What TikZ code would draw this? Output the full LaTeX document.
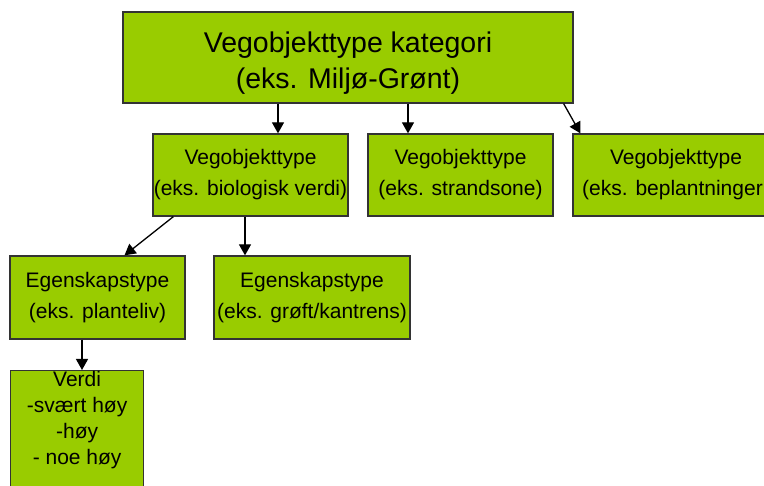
\documentclass[tikz,border=0pt]{standalone}
\usepackage{fontspec}
\setmainfont{Liberation Sans}
\usetikzlibrary{arrows.meta}
\definecolor{vegGreen}{HTML}{99CC00}

\begin{document}
\begin{tikzpicture}[x=1pt, y=-1pt,
    box/.style={draw=black!80, line width=1.3pt, fill=vegGreen, inner sep=0pt, align=center},
    small/.style={font=\fontsize{21}{31}\selectfont},
    txt/.style={align=center, inner sep=0pt},
    arr/.style={-{Triangle[width=12pt,length=11pt]}, line width=1.3pt}]

% frame
\useasboundingbox (0,0) rectangle (764,486);
\clip (0,0) rectangle (764,486);


% boxes
\node[box, minimum width=450pt, minimum height=91pt] (kat) at (348,57.5) {};
\node[txt, font=\fontsize{28.5}{36}\selectfont]
    (kattxt) at ([yshift=-6pt]kat.center) {Vegobjekttype kategori\\(eks. Miljø-Grønt)};

\begin{scope}[every node/.style={box, small, minimum height=82pt}]
    \node[minimum width=195pt] (veg1) at (250.5,175) {Vegobjekttype\\(eks. biologisk verdi)};
    \node[minimum width=185pt] (veg2) at (460.5,175) {Vegobjekttype\\(eks. strandsone)};
    \node[minimum width=206pt] (veg3) at (676,175) {Vegobjekttype\\(eks. beplantninger\hphantom{)}};
    \node[minimum width=175pt, minimum height=83pt] (eg1) at (97.5,297.5) {Egenskapstype\\(eks. planteliv)};
    \node[minimum width=196pt, minimum height=83pt] (eg2) at (312,297.5) {Egenskapstype\\(eks. grøft/kantrens)};
\end{scope}

\node[box, minimum width=133pt, minimum height=140pt, anchor=north west] (verdi) at (10,370) {};
\node[txt, anchor=north, font=\fontsize{21}{26}\selectfont]
    (verditxt) at ([yshift=-1pt]verdi.north) {Verdi\\-svært høy\\-høy\\- noe høy};


% arrows
\coordinate (c1) at (278,0);
\coordinate (c2) at (408,0);
\coordinate (c3) at (245,0);
\coordinate (c4) at (82,0);

\draw[arr] (kat.south -| c1) -- (veg1.north -| c1);
\draw[arr] (kat.south -| c2) -- (veg2.north -| c2);
\draw[arr] ([xshift=-10pt]kat.south east) -- ([xshift=8pt]veg3.north west);
\draw[arr] ([xshift=21pt]veg1.south west) -- ([xshift=27pt]eg1.north);
\draw[arr] (veg1.south -| c3) -- (eg2.north -| c3);
\draw[arr] (eg1.south -| c4) -- (verdi.north -| c4);

\end{tikzpicture}
\end{document}
